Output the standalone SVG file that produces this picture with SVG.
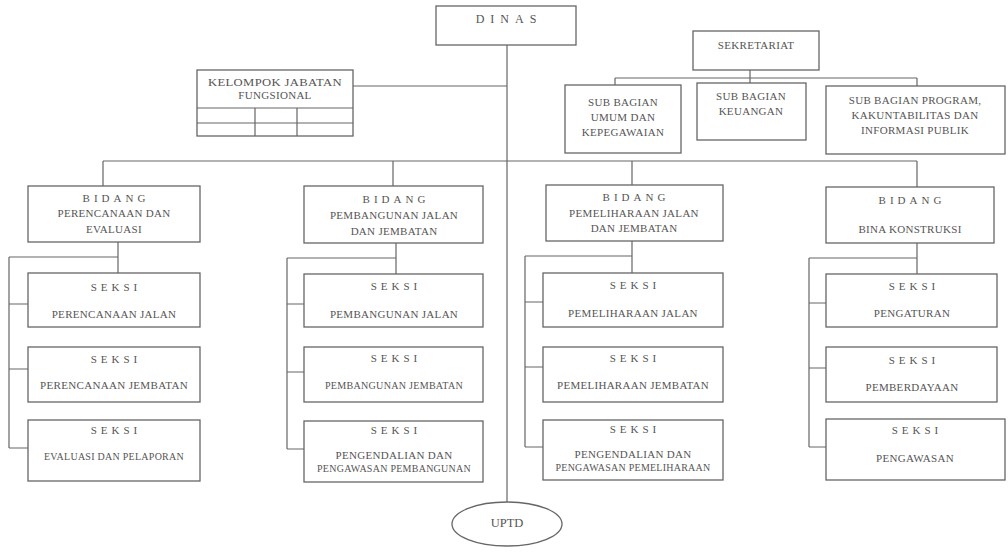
<svg xmlns="http://www.w3.org/2000/svg" width="1008" height="552" viewBox="0 0 1008 552">
<style>
.b{fill:#fff;stroke:#666;stroke-width:1.3}
.c{fill:none;stroke:#666;stroke-width:1.2}
text{font-family:"Liberation Serif","DejaVu Serif",serif;fill:#555;font-size:11px;letter-spacing:0.3px;text-anchor:middle;dominant-baseline:central}
.sp{letter-spacing:4px}
.sp2{letter-spacing:6px;font-size:12px}
</style>
<rect width="1008" height="552" fill="#fff"/>
<g id="connectors" class="c">
<path d="M507 45V502"/>
<path d="M353 86H507"/>
<path d="M103 161H917"/>
<path d="M103 161V186M393 161V186M632 161V185M917 161V187"/>
<path d="M750 70V78M615 78H917M615 78V85M750 78V83M917 78V86"/>
<path d="M118 242V273M9 257H118M9 257V448M9 304H28M9 369H28M9 448H28"/>
<path d="M396 243V274M287 258H396M287 258V449M287 304H304M287 372H304M287 449H304"/>
<path d="M632 241V273M525 256H632M525 256V447M525 302H543M525 367H543M525 447H543"/>
<path d="M917 243V274M809 258H917M809 258V447M809 303H826M809 368H826M809 447H826"/>
</g>
<g id="dinas"><rect class="b" x="436" y="6" width="140" height="39"/><text class="sp2" x="509" y="19">DINAS</text></g>
<g id="kelompok"><rect class="b" x="197" y="70" width="156" height="66"/>
<text x="275" y="82" textLength="134" lengthAdjust="spacingAndGlyphs">KELOMPOK JABATAN</text><text x="275" y="95">FUNGSIONAL</text>
<path class="c" d="M197 108H353M197 123H353M255 108V136M297 108V136"/></g>
<g id="sekretariat"><rect class="b" x="693" y="31" width="126" height="39"/><text x="756" y="45">SEKRETARIAT</text></g>
<g id="sub-umum"><rect class="b" x="565" y="85" width="116" height="68"/><text x="623" y="102">SUB BAGIAN</text><text x="623" y="117">UMUM DAN</text><text x="623" y="132">KEPEGAWAIAN</text></g>
<g id="sub-keuangan"><rect class="b" x="697" y="83" width="109" height="57"/><text x="751" y="96">SUB BAGIAN</text><text x="751" y="111">KEUANGAN</text></g>
<g id="sub-program"><rect class="b" x="826" y="86" width="179" height="68"/><text x="915" y="100">SUB BAGIAN PROGRAM,</text><text x="915" y="115">KAKUNTABILITAS DAN</text><text x="915" y="130">INFORMASI PUBLIK</text></g>

<g id="bidang1"><rect class="b" x="28" y="186" width="172" height="56"/><text class="sp" x="116" y="198">BIDANG</text><text x="114" y="213">PERENCANAAN DAN</text><text x="114" y="229">EVALUASI</text></g>
<g id="seksi1a"><rect class="b" x="28" y="273" width="172" height="54"/><text class="sp" x="116" y="287">SEKSI</text><text x="114" y="314">PERENCANAAN JALAN</text></g>
<g id="seksi1b"><rect class="b" x="28" y="347" width="172" height="55"/><text class="sp" x="116" y="359">SEKSI</text><text x="114" y="385" textLength="148" lengthAdjust="spacingAndGlyphs">PERENCANAAN JEMBATAN</text></g>
<g id="seksi1c"><rect class="b" x="28" y="420" width="172" height="61"/><text class="sp" x="116" y="430">SEKSI</text><text x="114" y="456" textLength="140" lengthAdjust="spacingAndGlyphs">EVALUASI DAN PELAPORAN</text></g>

<g id="bidang2"><rect class="b" x="304" y="186" width="179" height="57"/><text class="sp" x="396" y="199">BIDANG</text><text x="394" y="215">PEMBANGUNAN JALAN</text><text x="394" y="231">DAN JEMBATAN</text></g>
<g id="seksi2a"><rect class="b" x="304" y="274" width="179" height="53"/><text class="sp" x="396" y="286">SEKSI</text><text x="394" y="314">PEMBANGUNAN JALAN</text></g>
<g id="seksi2b"><rect class="b" x="304" y="347" width="179" height="55"/><text class="sp" x="396" y="358">SEKSI</text><text x="394" y="385" textLength="138" lengthAdjust="spacingAndGlyphs">PEMBANGUNAN JEMBATAN</text></g>
<g id="seksi2c"><rect class="b" x="304" y="421" width="179" height="61"/><text class="sp" x="396" y="430">SEKSI</text><text x="394" y="455">PENGENDALIAN DAN</text><text x="394" y="468" textLength="154" lengthAdjust="spacingAndGlyphs">PENGAWASAN PEMBANGUNAN</text></g>

<g id="bidang3"><rect class="b" x="546" y="185" width="177" height="56"/><text class="sp" x="636" y="197">BIDANG</text><text x="634" y="213">PEMELIHARAAN JALAN</text><text x="634" y="228">DAN JEMBATAN</text></g>
<g id="seksi3a"><rect class="b" x="543" y="273" width="180" height="54"/><text class="sp" x="635" y="285">SEKSI</text><text x="633" y="313">PEMELIHARAAN JALAN</text></g>
<g id="seksi3b"><rect class="b" x="543" y="347" width="180" height="55"/><text class="sp" x="635" y="358">SEKSI</text><text x="633" y="385" textLength="152" lengthAdjust="spacingAndGlyphs">PEMELIHARAAN JEMBATAN</text></g>
<g id="seksi3c"><rect class="b" x="543" y="420" width="180" height="60"/><text class="sp" x="635" y="429">SEKSI</text><text x="633" y="454">PENGENDALIAN DAN</text><text x="633" y="467" textLength="155" lengthAdjust="spacingAndGlyphs">PENGAWASAN PEMELIHARAAN</text></g>

<g id="bidang4"><rect class="b" x="826" y="187" width="168" height="56"/><text class="sp" x="912" y="200">BIDANG</text><text x="910" y="229">BINA KONSTRUKSI</text></g>
<g id="seksi4a"><rect class="b" x="826" y="274" width="171" height="53"/><text class="sp" x="914" y="286">SEKSI</text><text x="912" y="313">PENGATURAN</text></g>
<g id="seksi4b"><rect class="b" x="826" y="347" width="171" height="55"/><text class="sp" x="914" y="360">SEKSI</text><text x="912" y="387">PEMBERDAYAAN</text></g>
<g id="seksi4c"><rect class="b" x="826" y="419" width="179" height="61"/><text class="sp" x="917" y="430">SEKSI</text><text x="915" y="458">PENGAWASAN</text></g>

<g id="uptd"><ellipse class="b" cx="507" cy="524" rx="55" ry="22"/><text x="507" y="523" style="font-size:12.5px;letter-spacing:0">UPTD</text></g>
</svg>
